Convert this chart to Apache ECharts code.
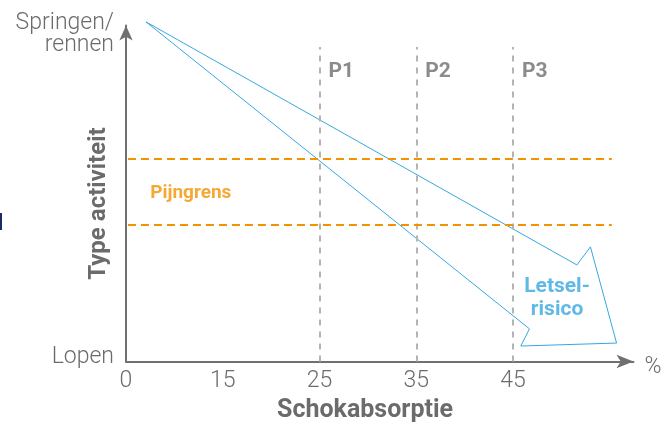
<!DOCTYPE html>
<html>
<head>
<meta charset="utf-8">
<style>
  html, body { margin: 0; padding: 0; background: #fff; }
  #chart { width: 669px; height: 425px; }
</style>
<script src="https://cdn.jsdelivr.net/npm/echarts@6/dist/echarts.min.js"></script>
</head>
<body>
<div id="chart"></div>
<script>
// x axis runs in tick-index units: 0,1,2,3,4 -> 0,15,25,35,45 %
const xTickLabels = ['0', '15', '25', '35', '45'];
const yLevels = [0, 10];
const yLevelLabels = ['Lopen', 'Springen/\nrennen'];

// phase dividers (P1..P3) at 25, 35, 45
const phaseX = [2, 3, 4];
const phaseNames = ['P1', 'P2', 'P3'];
const phaseTop = 9.55;
const phaseLabelY = 8.8;

// pain threshold band
const painLevels = [6.15, 4.15];
const painStart = 0.02;
const painEnd = 5.02;
const painLabel = 'Pijngrens';
const painLabelPos = [0.25, 5.12];

// injury-risk arrow outline
const riskX = [0.207, 4.66, 4.80, 5.07, 4.08, 4.17, 0.207];
const riskY = [10.31, 2.93, 3.48, 0.56, 0.47, 0.99, 10.31];
const riskLabel = 'Letsel-\nrisico';
const riskLabelPos = [4.455, 1.93];

const grey = '#707070';
const textGrey = '#6b6b6b';
const blue = '#37a6e0';
const orange = '#f39200';
const font = 'Roboto';

const chart = echarts.init(document.getElementById('chart'));

const option = {
  animation: false,
  textStyle: { fontFamily: font },
  grid: { left: 126, top: 25.5, width: 507.5, height: 336, outerBoundsMode: 'none' },
  title: {
    text: 'Schokabsorptie',
    left: 277,
    top: 398,
    padding: 0,
    textStyle: { fontFamily: font, fontSize: 25, fontWeight: 'bold', color: textGrey }
  },
  xAxis: {
    type: 'value',
    min: 0,
    max: 5.245,
    interval: 1,
    name: '%',
    nameLocation: 'end',
    nameGap: 11,
    nameMoveOverlap: false,
    nameTextStyle: { fontFamily: font, fontSize: 23, fontWeight: 300, color: textGrey, align: 'left', verticalAlign: 'top', lineHeight: 12 },
    splitLine: { show: false },
    axisTick: { show: false },
    axisLine: {
      onZero: false,
      symbol: ['none', 'arrow'],
      symbolSize: [10, 17],
      lineStyle: { color: grey, width: 2 }
    },
    axisLabel: {
      margin: 8,
      fontFamily: font,
      fontSize: 23,
      fontWeight: 300,
      color: textGrey,
      showMaxLabel: false,
      formatter: v => (Number.isInteger(v) && xTickLabels[v] !== undefined) ? xTickLabels[v] : ''
    }
  },
  yAxis: {
    type: 'value',
    min: 0,
    max: 10.2,
    interval: 10,
    name: 'Type activiteit',
    nameLocation: 'middle',
    nameGap: 15,
    nameMoveOverlap: false,
    nameTextStyle: { fontFamily: font, fontSize: 24, fontWeight: 'bold', color: textGrey, padding: [0, 20, 0, 0] },
    splitLine: { show: false },
    axisTick: { show: false },
    axisLine: {
      symbol: ['none', 'arrow'],
      symbolSize: [10, 15],
      lineStyle: { color: grey, width: 2 }
    },
    axisLabel: {
      margin: 12,
      fontFamily: font,
      fontSize: 23,
      fontWeight: 300,
      color: textGrey,
      showMaxLabel: false,
      formatter: v => {
        const i = yLevels.indexOf(v);
        if (i < 0) return '';
        return i === 0 ? '{low|' + yLevelLabels[i] + '}' : '{high|' + yLevelLabels[i] + '}';
      },
      rich: {
        low: { fontFamily: font, fontSize: 23, fontWeight: 300, color: textGrey, padding: [0, 0, 9, 0] },
        high: { fontFamily: font, fontSize: 23, fontWeight: 300, color: textGrey, lineHeight: 22, padding: [0, 0, -4, 0] }
      }
    }
  },
  series: [
    {
      name: 'grid-lines',
      type: 'line',
      data: [],
      silent: true,
      markLine: {
        silent: true,
        symbol: 'none',
        label: { show: false },
        data: [
          ...phaseX.map(x => [
            { coord: [x, 0], lineStyle: { color: '#b4b4b4', width: 2, type: [6, 6] } },
            { coord: [x, phaseTop] }
          ]),
          ...painLevels.map(y => [
            { coord: [painStart, y], lineStyle: { color: orange, width: 2, type: [8, 5] } },
            { coord: [painEnd, y] }
          ])
        ]
      }
    },
    {
      name: 'Letselrisico',
      type: 'line',
      clip: false,
      symbol: 'none',
      lineStyle: { color: blue, width: 1 },
      data: riskX.map((x, i) => [x, riskY[i]]),
      z: 3
    },
    {
      name: 'phase-labels',
      type: 'scatter',
      symbolSize: 0,
      silent: true,
      label: {
        show: true,
        position: 'right',
        distance: 9,
        fontFamily: font,
        fontSize: 21,
        fontWeight: 'bold',
        color: '#6e6e6e',
        formatter: p => phaseNames[p.dataIndex]
      },
      data: phaseX.map(x => [x, phaseLabelY])
    },
    {
      name: 'pain-label',
      type: 'scatter',
      symbolSize: 0,
      silent: true,
      label: {
        show: true,
        position: 'right',
        distance: 0,
        fontFamily: font,
        fontSize: 19,
        fontWeight: 'bold',
        color: orange,
        formatter: painLabel
      },
      data: [painLabelPos]
    },
    {
      name: 'risk-label',
      type: 'scatter',
      symbolSize: 0,
      silent: true,
      label: {
        show: true,
        position: 'inside',
        fontFamily: font,
        fontSize: 21,
        fontWeight: 'bold',
        color: blue,
        lineHeight: 23,
        align: 'center',
        formatter: riskLabel
      },
      data: [riskLabelPos]
    }
  ],
  graphic: [
    { type: 'rect', left: 0, top: 213, shape: { width: 2, height: 17 }, style: { fill: '#1c2a66' } }
  ]
};

chart.setOption(option);
window.addEventListener('resize', () => chart.resize());
</script>
</body>
</html>
